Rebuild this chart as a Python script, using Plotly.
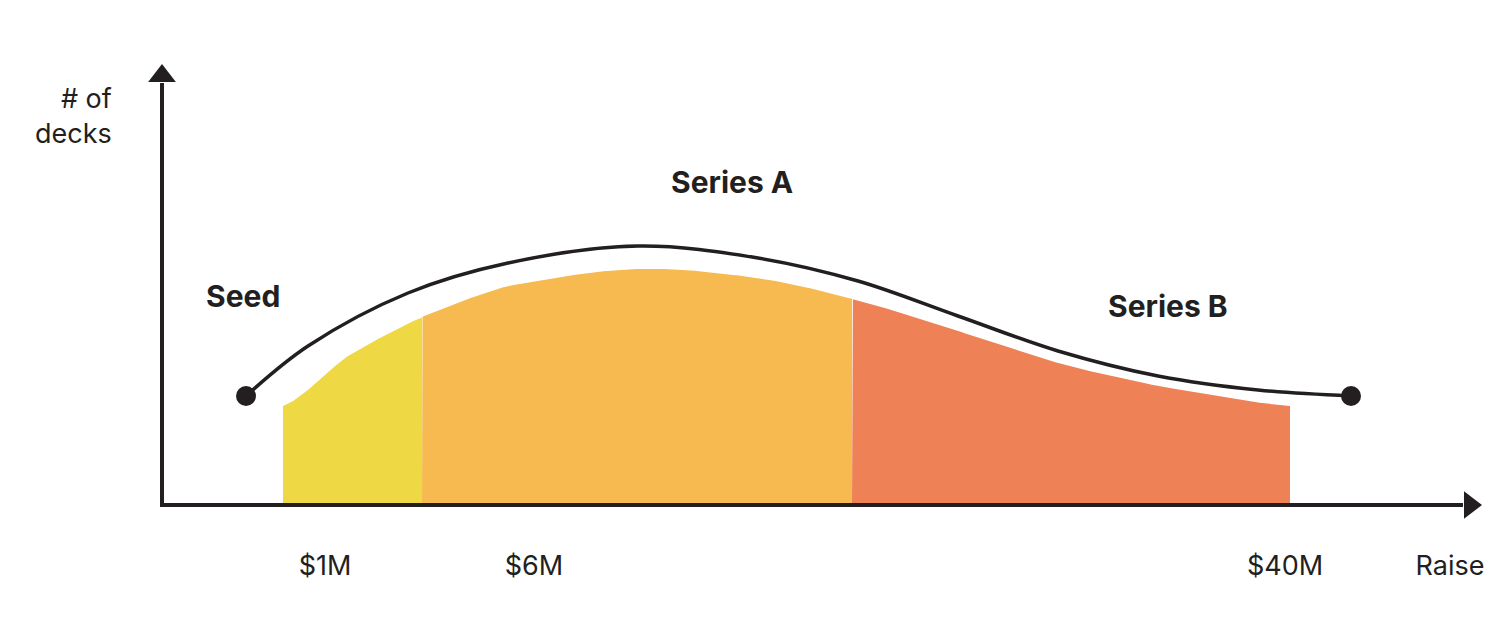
import plotly.graph_objects as go

# conceptual curve (chart units: x across, y down from top)
curve_x = [238, 300, 400, 500, 630, 750, 850, 950, 1050, 1150, 1250, 1343]
curve_y = [388, 338, 285, 255, 238, 250, 273, 308, 343, 368, 382, 388]
area_x = [275, 340, 414, 500, 630, 750, 844, 950, 1050, 1150, 1282]
area_y = [398, 348, 309, 278, 261, 270, 291, 323, 355, 378, 398]
segments = [("Seed", 275, 414, "#EED944"), ("Series A", 414, 844, "#F6BA50"), ("Series B", 844, 1282, "#EF8156")]
baseline = 497
tick_labels = ["$1M", "$6M", "$40M"]
tick_pos = [317, 526, 1277]

import numpy as np
fx = np.linspace(area_x[0], area_x[-1], 600)
# smooth via monotone-ish interpolation on sampled values (using quadratic spline through read points)
from numpy.polynomial import polynomial as P
def interp_smooth(xs, ys, xq):
    # Catmull-Rom
    xs = list(xs); ys = list(ys)
    out = []
    for x in xq:
        i = max(0, min(len(xs) - 2, np.searchsorted(xs, x) - 1))
        x0, x1 = xs[i], xs[i+1]
        t = (x - x0) / (x1 - x0)
        p0 = ys[max(i-1, 0)]; p1 = ys[i]; p2 = ys[i+1]; p3 = ys[min(i+2, len(ys)-1)]
        out.append(0.5*((2*p1)+(-p0+p2)*t+(2*p0-5*p1+4*p2-p3)*t*t+(-p0+3*p1-3*p2+p3)*t**3))
    return np.array(out)
fy = interp_smooth(area_x, area_y, fx)

fig = go.Figure()
for name, a, b, col in segments:
    m = (fx >= a) & (fx <= b)
    xs = list(fx[m]); ys = list(fy[m])
    fig.add_trace(go.Scatter(x=[a] + xs + [b, b, a], y=[baseline] + ys + [ys[-1], baseline, baseline],
                             fill="toself", fillcolor=col, line=dict(width=0), mode="lines", hoverinfo="skip"))

fig.add_trace(go.Scatter(x=curve_x, y=curve_y, mode="lines", line=dict(color="#231F20", width=3.5, shape="spline", smoothing=1.0)))
fig.add_trace(go.Scatter(x=[curve_x[0], curve_x[-1]], y=[curve_y[0], curve_y[-1]], mode="markers",
                         marker=dict(color="#231F20", size=20)))
# axes
fig.add_trace(go.Scatter(x=[154, 154, 1455], y=[75, baseline, baseline], mode="lines", line=dict(color="#231F20", width=4)))
fig.add_trace(go.Scatter(x=[154], y=[68], mode="markers", marker=dict(symbol="triangle-up", size=24, color="#231F20")))
fig.add_trace(go.Scatter(x=[1462], y=[baseline], mode="markers", marker=dict(symbol="triangle-right", size=24, color="#231F20")))

fig.add_trace(go.Scatter(x=tick_pos, y=[560]*3, text=tick_labels, mode="text",
                         textfont=dict(family="Inter", size=27, color="#231F20")))
fig.add_trace(go.Scatter(x=[1442], y=[560], text=["Raise"], mode="text",
                         textfont=dict(family="Inter", size=27, color="#231F20")))
fig.add_annotation(x=106, y=108, text="# of<br>decks", showarrow=False, xanchor="right", align="right",
                   font=dict(family="Inter", size=27, color="#231F20"))
for t, x, y in [("Seed", 235, 288), ("Series A", 724, 174), ("Series B", 1160, 298)]:
    fig.add_annotation(x=x, y=y, text="<b>" + t + "</b>", showarrow=False,
                       font=dict(family="Inter", size=30, color="#231F20"))

fig.update_layout(width=1512, height=640, margin=dict(l=0, r=0, t=0, b=0), showlegend=False,
                  plot_bgcolor="white", paper_bgcolor="white",
                  xaxis=dict(range=[0, 1512], visible=False),
                  yaxis=dict(range=[640, 0], visible=False))
fig.write_html("out.html")
